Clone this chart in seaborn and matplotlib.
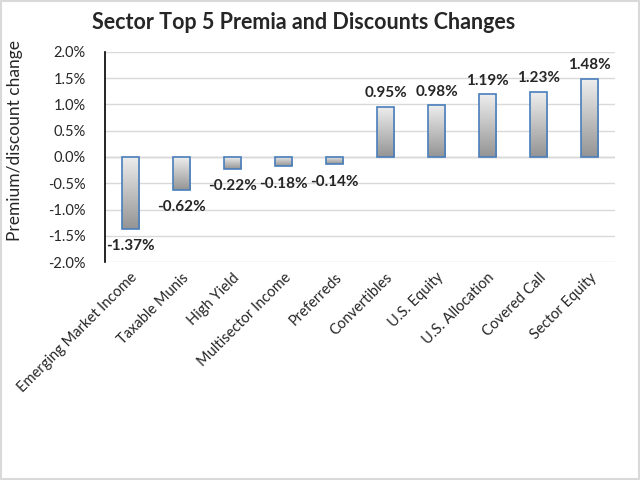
import numpy as np
import pandas as pd
import matplotlib
matplotlib.use("Agg")
import matplotlib.pyplot as plt
import matplotlib.patches as mpatches
import seaborn as sns

# --- Data ---
sectors = ["Emerging Market Income", "Taxable Munis", "High Yield", "Multisector Income",
           "Preferreds", "Convertibles", "U.S. Equity", "U.S. Allocation", "Covered Call",
           "Sector Equity"]
changes = [-1.37, -0.62, -0.22, -0.18, -0.14, 0.95, 0.98, 1.19, 1.23, 1.48]
yticks = [-2.0, -1.5, -1.0, -0.5, 0.0, 0.5, 1.0, 1.5, 2.0]

df = pd.DataFrame({"sector": sectors, "change": changes})

sns.set_style("white")
plt.rcParams['font.family'] = ['Lato', 'DejaVu Sans']

fig = plt.figure(figsize=(6.4, 4.8), dpi=100)
ax = fig.add_axes([0.164, 0.454, 0.797, 0.438])

sns.barplot(data=df, x="sector", y="change", ax=ax, width=0.34,
            color="#bfbfbf", edgecolor="#4a7ebb", linewidth=1.2)

# gradient fill inside each bar
grad = np.linspace(0.93, 0.58, 256).reshape(-1, 1)
for bar in ax.patches:
    x0, y0 = bar.get_x(), bar.get_y()
    w, h = bar.get_width(), bar.get_height()
    bar.set_facecolor("none")
    ylo, yhi = min(y0, y0 + h), max(y0, y0 + h)
    im = ax.imshow(grad, extent=[x0, x0 + w, ylo, yhi], aspect="auto",
                   cmap="gray", vmin=0, vmax=1, zorder=bar.get_zorder() - 0.1)
    im.set_clip_path(bar)

ax.set_xlim(-0.5, len(sectors) - 0.5)
ax.set_ylim(-2.0, 2.0)
ax.set_yticks(yticks)
ax.set_yticklabels([f"{t:.1f}%" for t in yticks], fontsize=10.5)
ax.yaxis.grid(True, color="#d9d9d9", linewidth=1)
ax.set_axisbelow(True)
ax.axhline(0, color="#bfbfbf", linewidth=1, zorder=0.5)
for s in ["top", "right", "bottom"]:
    ax.spines[s].set_visible(False)
ax.spines["left"].set_color("black")
ax.spines["left"].set_linewidth(1.2)
ax.tick_params(axis="y", length=0, pad=14)
ax.tick_params(axis="x", length=0, pad=6)

ax.set_xticks(range(len(sectors)))
ax.set_xticklabels(sectors, rotation=45, ha="right", rotation_mode="anchor", fontsize=10.5)
ax.set_xlabel("")
ax.set_ylabel("")
fig.text(15 / 640, 1 - 140 / 480, "Premium/discount change", rotation=90,
         ha="center", va="center", fontsize=12.5)

for i, v in enumerate(changes):
    off = 0.13 if v > 0 else -0.2
    ax.text(i, v + off, f"{v:.2f}%", ha="center", va="bottom" if v > 0 else "top",
            fontsize=11, fontweight="bold")

fig.suptitle("Sector Top 5 Premia and Discounts Changes", fontsize=15.5,
             fontweight="bold", x=0.474, y=0.975)

fig.patches.append(mpatches.Rectangle((0.002, 0.002), 0.996, 0.996, transform=fig.transFigure,
                                      fill=False, edgecolor="#d9d9d9", linewidth=1.5))

fig.savefig("out.png", dpi=100)
